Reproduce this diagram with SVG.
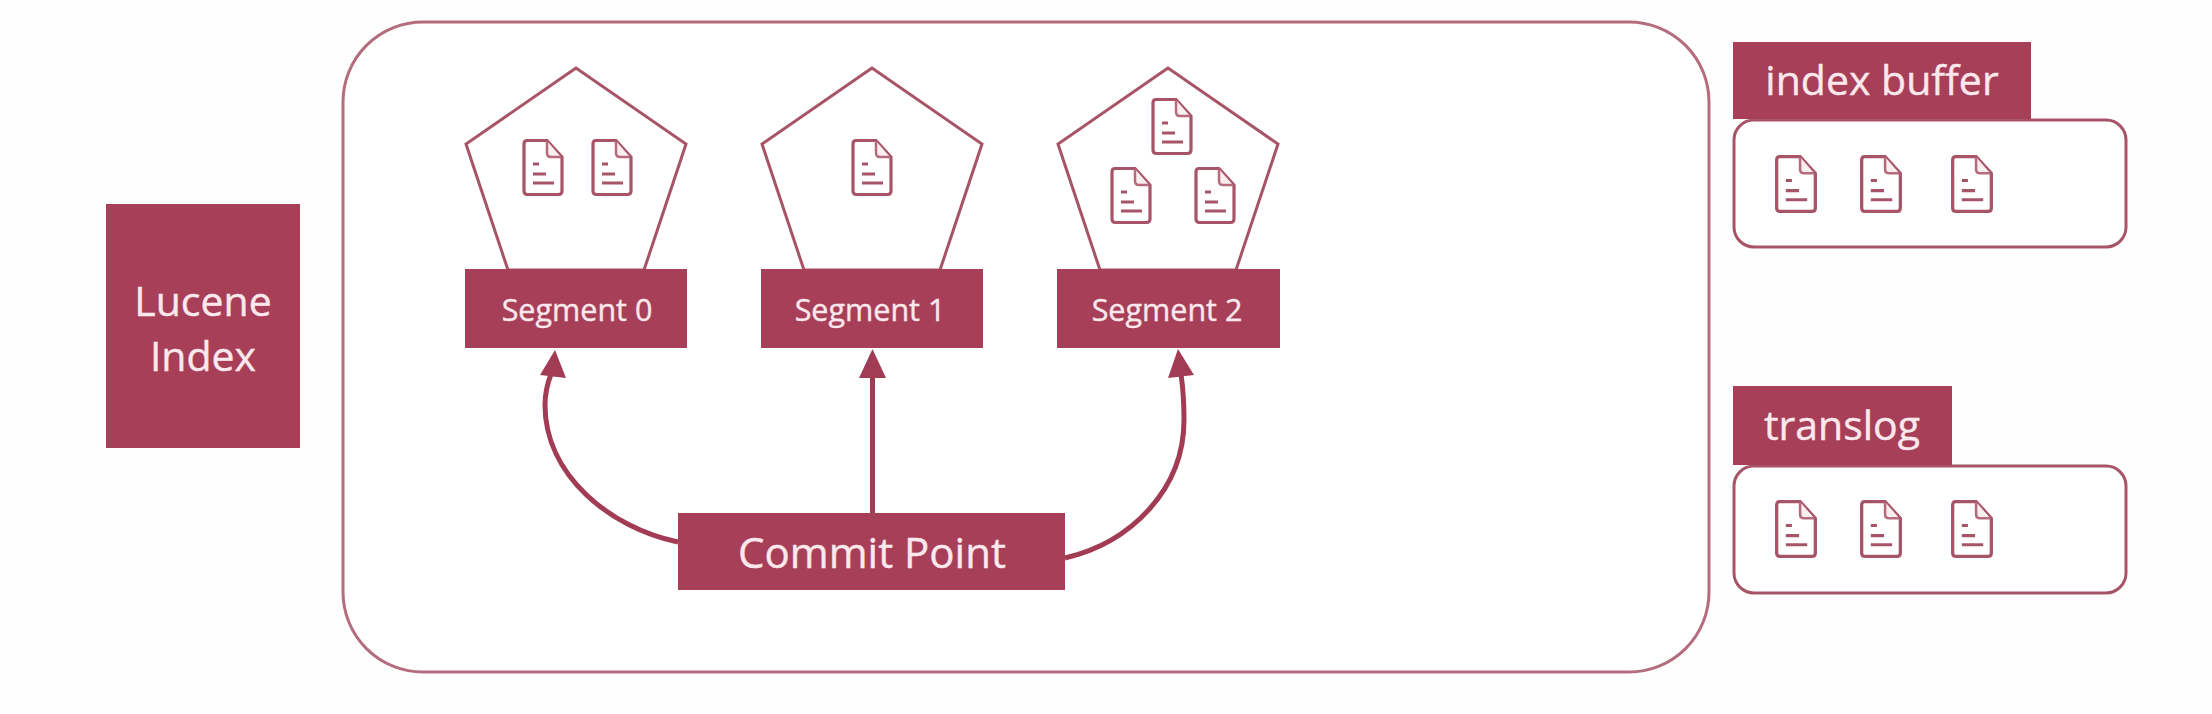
<svg xmlns="http://www.w3.org/2000/svg" width="2212" height="714" viewBox="0 0 2212 714">
<style>
.box{fill:#a73f58}
.ln{fill:#fff;stroke:#a85468;stroke-width:3}
.wire{fill:none;stroke:#a23c55;stroke-width:5}
.head{fill:#a23c55}
text{font-family:"Open Sans","Noto Sans","Liberation Sans",sans-serif;fill:#fbe8ec;stroke:#fbe8ec;stroke-width:.4;text-anchor:middle}
.s{font-size:30.500px}
.b{font-size:41px}
.c{font-size:42px}
</style>
<defs>
<symbol id="doc" viewBox="0 0 40 57" overflow="visible">
<path d="M4 1.500H24L39 18V52Q39 55.500 35.500 55.500H4.500Q1 55.500 1 52V5Q1 1.500 4 1.500Z" fill="#fff" stroke="#a85468" stroke-width="3.200"/>
<path d="M24 2V14Q24 18 28 18H38" fill="#fbeef1" stroke="#b66a7c" stroke-width="2.500"/>
<path d="M10 25H16M10 35H23M10 44H31" fill="none" stroke="#a85468" stroke-width="3"/>
</symbol>
</defs>
<rect width="2212" height="714" fill="#fefefe"/>
<g id="container"><rect x="343" y="22" width="1366" height="650" rx="80" fill="#fff" stroke="#b46c7e" stroke-width="3"/></g>
<g id="lucene-index"><rect class="box" x="106" y="204" width="194" height="244"/>
<text class="b" x="203" y="316">Lucene</text><text class="b" x="203" y="371">Index</text></g>
<g id="segment-0"><path class="ln" d="M576 68L466 144L508 270H644L686 144Z"/>
<rect class="box" x="465" y="269" width="222" height="79"/>
<text class="s" x="577" y="321">Segment 0</text>
<use href="#doc" x="523" y="139" width="40" height="57"/><use href="#doc" x="592" y="139" width="40" height="57"/></g>
<g id="segment-1"><path class="ln" d="M872 68L762 144L804 270H940L982 144Z"/>
<rect class="box" x="761" y="269" width="222" height="79"/>
<text class="s" x="870" y="321">Segment 1</text>
<use href="#doc" x="852" y="139" width="40" height="57"/></g>
<g id="segment-2"><path class="ln" d="M1168 68L1058 144L1100 270H1236L1278 144Z"/>
<rect class="box" x="1057" y="269" width="223" height="79"/>
<text class="s" x="1167" y="321">Segment 2</text>
<use href="#doc" x="1152" y="98" width="40" height="57"/><use href="#doc" x="1111" y="167" width="40" height="57"/><use href="#doc" x="1195" y="167" width="40" height="57"/></g>
<g id="connectors">
<path class="wire" d="M678 542C610 528 545 475 545 405Q545 390 551 374"/>
<path class="head" d="M555 350L566 378L540 375Z"/>
<path class="wire" d="M872.500 513V374"/>
<path class="head" d="M872.500 349L886 378H859Z"/>
<path class="wire" d="M1065 558C1130 543 1184 490 1184 420Q1184 395 1181 374"/>
<path class="head" d="M1178 349L1194 375L1168 378Z"/>
</g>
<g id="commit-point"><rect class="box" x="678" y="513" width="387" height="77"/>
<text class="c" x="872" y="568">Commit Point</text></g>
<g id="index-buffer"><rect class="ln" x="1734" y="120" width="392" height="127" rx="20"/>
<rect class="box" x="1733" y="42" width="298" height="77"/>
<text class="b" x="1882" y="95">index buffer</text>
<use href="#doc" x="1775" y="155" width="42" height="58"/><use href="#doc" x="1860" y="155" width="42" height="58"/><use href="#doc" x="1951" y="155" width="42" height="58"/></g>
<g id="translog"><rect class="ln" x="1734" y="466" width="392" height="127" rx="20"/>
<rect class="box" x="1733" y="386" width="219" height="79"/>
<text class="b" x="1842" y="440">translog</text>
<use href="#doc" x="1775" y="500" width="42" height="58"/><use href="#doc" x="1860" y="500" width="42" height="58"/><use href="#doc" x="1951" y="500" width="42" height="58"/></g>
</svg>
